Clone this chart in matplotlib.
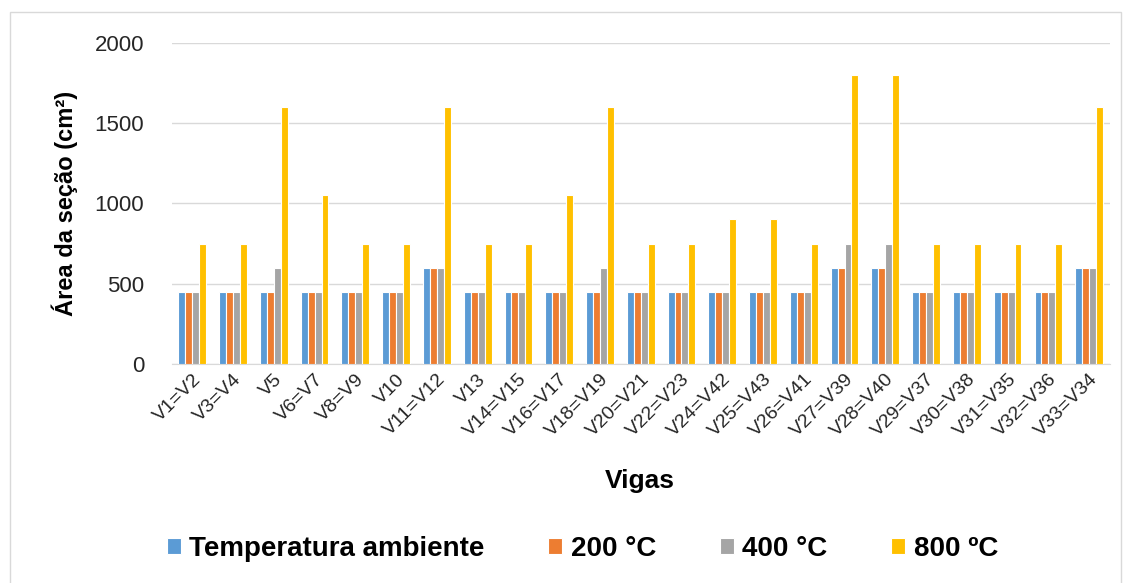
import numpy as np
import matplotlib.pyplot as plt
from matplotlib.patches import Rectangle

plt.rcParams['font.family'] = ['Liberation Sans', 'DejaVu Sans']

vigas = ['V1=V2', 'V3=V4', 'V5', 'V6=V7', 'V8=V9', 'V10', 'V11=V12', 'V13',
         'V14=V15', 'V16=V17', 'V18=V19', 'V20=V21', 'V22=V23', 'V24=V42',
         'V25=V43', 'V26=V41', 'V27=V39', 'V28=V40', 'V29=V37', 'V30=V38',
         'V31=V35', 'V32=V36', 'V33=V34']
ambiente = [450, 450, 450, 450, 450, 450, 600, 450, 450, 450, 450, 450, 450,
            450, 450, 450, 600, 600, 450, 450, 450, 450, 600]
t200 = [450, 450, 450, 450, 450, 450, 600, 450, 450, 450, 450, 450, 450,
        450, 450, 450, 600, 600, 450, 450, 450, 450, 600]
t400 = [450, 450, 600, 450, 450, 450, 600, 450, 450, 450, 600, 450, 450,
        450, 450, 450, 750, 750, 450, 450, 450, 450, 600]
t800 = [750, 750, 1600, 1050, 750, 750, 1600, 750, 750, 1050, 1600, 750, 750,
        900, 900, 750, 1800, 1800, 750, 750, 750, 750, 1600]

series = [ambiente, t200, t400, t800]
labels = ['Temperatura ambiente', '200 °C', '400 °C', '800 ºC']
colors = ['#5B9BD5', '#ED7D31', '#A5A5A5', '#FFC000']

fig = plt.figure(figsize=(11.31, 5.83), dpi=100)
ax = fig.add_axes([0.152, 0.376, 0.829, 0.55])

x = np.arange(len(vigas))
w = 0.17
for i, (vals, lab, c) in enumerate(zip(series, labels, colors)):
    ax.bar(x + (i - 1.5) * w, vals, w, color=c, label=lab,
           edgecolor='white', linewidth=0.8, zorder=3)

ax.set_xlim(-0.5, len(vigas) - 0.5)
ax.set_ylim(0, 2000)
ax.set_yticks([0, 500, 1000, 1500, 2000])
ax.yaxis.grid(True, color='#D9D9D9', linewidth=1, zorder=0)
for s in ['top', 'right', 'left']:
    ax.spines[s].set_visible(False)
ax.spines['bottom'].set_color('#D9D9D9')
ax.tick_params(axis='y', length=0, labelsize=16, colors='#262626', pad=20)
ax.set_xticks(x)
ax.set_xticklabels(vigas, rotation=45, ha='right', rotation_mode='anchor',
                   fontsize=14, color='#262626')
ax.tick_params(axis='x', length=0, pad=5)

ax.set_ylabel('Área da seção (cm²)', fontsize=17, fontweight='bold', labelpad=12)
fig.text(0.566, 0.175, 'Vigas', ha='center', va='center', fontsize=19,
         fontweight='bold')

fig.legend(loc='center', bbox_to_anchor=(0.515, 0.058), ncol=4, frameon=False,
           prop={'size': 20, 'weight': 'bold'}, handlelength=0.5,
           handleheight=0.5, handletextpad=0.3, columnspacing=2.3)

fig.patches.append(Rectangle((0.009, -0.01), 0.982, 0.99, transform=fig.transFigure,
                             fill=False, edgecolor='#D9D9D9', linewidth=1))

fig.savefig('out.png', dpi=100)
